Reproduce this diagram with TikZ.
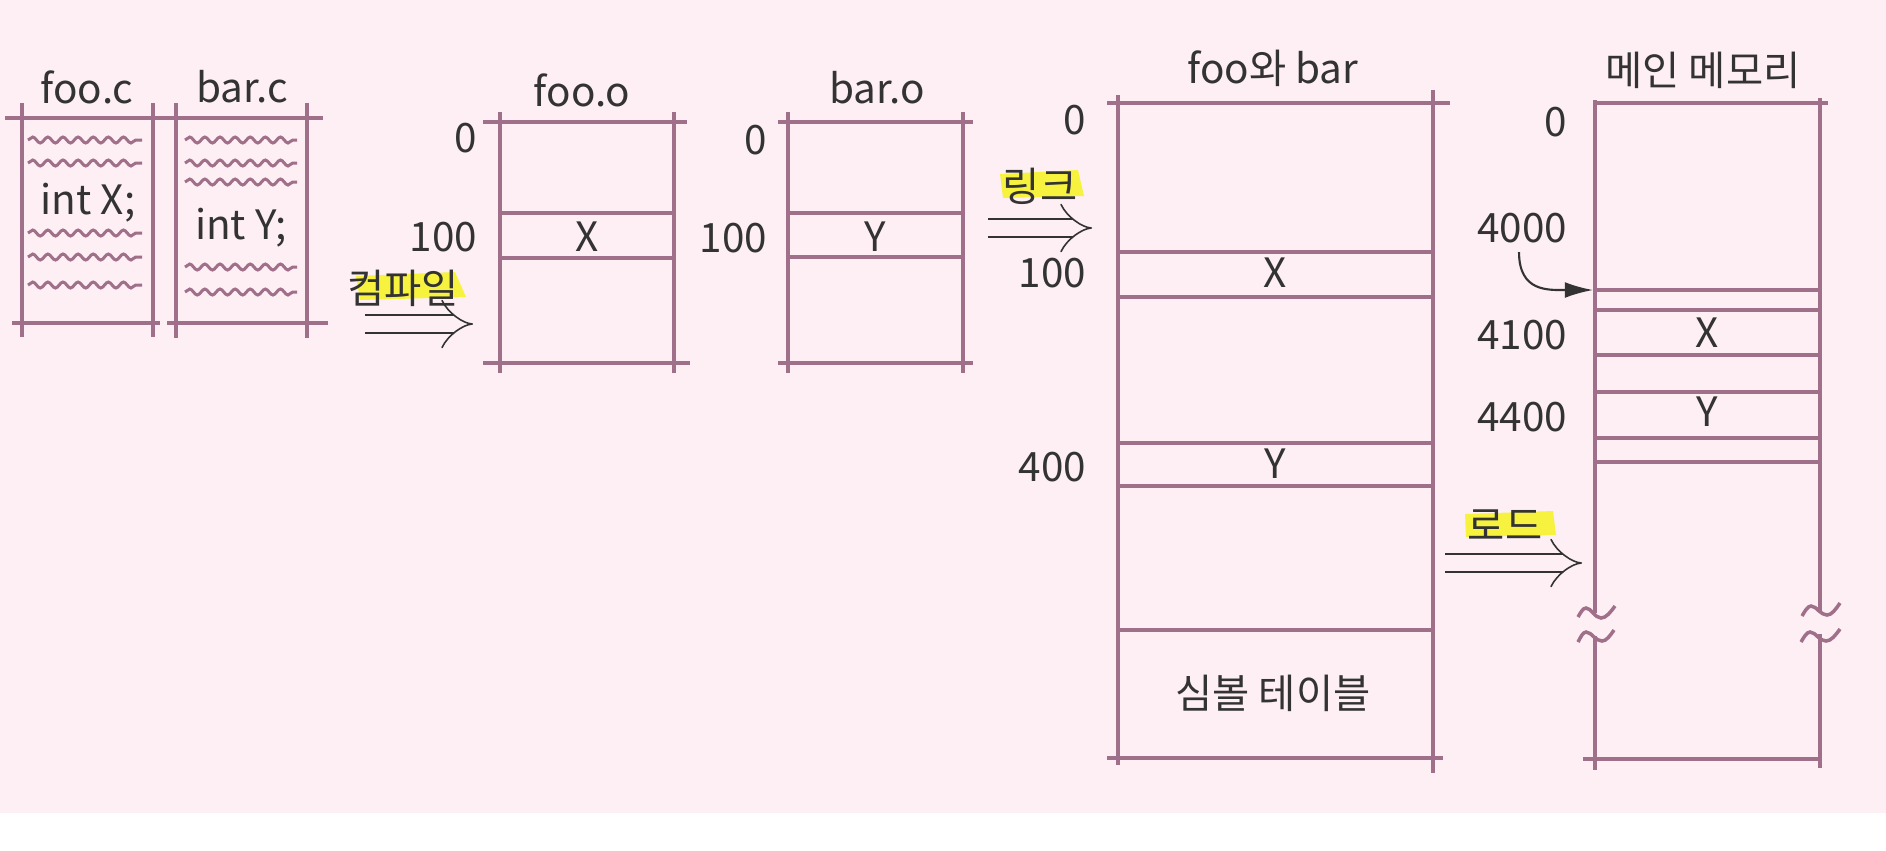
\documentclass[tikz,border=0pt]{standalone}
\usepackage{fontspec}
\setmainfont{Noto Sans CJK KR}
\usepackage{tikz}
\usetikzlibrary{calc,arrows.meta,decorations.pathmorphing}
\definecolor{paper}{HTML}{FDEFF4}
\definecolor{rule}{HTML}{A06F89}
\definecolor{ink}{HTML}{333333}
\definecolor{marker}{HTML}{F6F23E}
\tikzstyle{wall}=[draw=rule,line width=1pt]
\tikzstyle{wave}=[draw=rule,line width=0.85pt,decorate,decoration={snake,amplitude=0.85pt,segment length=4.3pt}]
\tikzstyle{lbl}=[text=ink,inner sep=0pt,font=\fontsize{11.5}{13}\selectfont]
\tikzstyle{flow}=[draw=ink,line width=0.45pt,double=paper,double distance=4.6pt,-{Implies}]
\tikzstyle{curv}=[draw=ink,line width=0.6pt,-{Latex[length=8pt,width=4.5pt]}]
\tikzstyle{hl}=[fill=marker]

\begin{document}
\begin{tikzpicture}[x=0.01cm,y=-0.01cm]
\useasboundingbox (0,0) rectangle (1886,850);
\fill[paper] (0,0) rectangle (1886,813);
\fill[white] (0,813) rectangle (1886,850);

% source files
\draw (5,118)--(168,118) [wall];
\draw (12,323)--(160,323) [wall];
\draw (22,103)--(22,337) [wall];
\draw (153,103)--(153,337) [wall];
\draw (168,118)--(323,118) [wall];
\draw (167,323)--(328,323) [wall];
\draw (176,103)--(176,338) [wall];
\draw (307,103)--(307,338) [wall];

\draw (28,140)--(142,140) [wave];
\draw (28,163)--(142,163) [wave];
\draw (28,233)--(142,233) [wave];
\draw (28,257)--(142,257) [wave];
\draw (28,285)--(142,285) [wave];
\draw (185,140)--(297,140) [wave];
\draw (185,163)--(297,163) [wave];
\draw (185,182)--(297,182) [wave];
\draw (185,267)--(297,267) [wave];
\draw (185,292)--(297,292) [wave];

\draw (87,87) node [lbl] (fooc) {foo.c};
\draw (242,87) node [lbl] (barc) {bar.c};
\draw (88,203) node [lbl] (intx) {int X;};
\draw (241,228) node [lbl] (inty) {int Y;};

% compile
\fill (356,276)--(455,272)--(466,297)--(360,300)--cycle [hl];
\draw (403,288) node [lbl] (comp) {컴파일};
\coordinate (cs) at (365,324);
\coordinate (ce) at (473,324);
\draw (cs)--(ce) [flow];

% foo.o
\draw (483,122)--(687,122) [wall];
\draw (500,213)--(674,213) [wall];
\draw (500,258)--(674,258) [wall];
\draw (483,363)--(690,363) [wall];
\draw (500,112)--(500,373) [wall];
\draw (674,112)--(674,373) [wall];
\draw (582,90) node [lbl] (fooo) {foo.o};
\draw (478,138) node [lbl,anchor=east] (fo0) {0};
\draw (478,237) node [lbl,anchor=east] (fo100) {100};
\draw (587,237) node [lbl] (fox) {X};

% bar.o
\draw (778,122)--(973,122) [wall];
\draw (788,213)--(963,213) [wall];
\draw (788,257)--(963,257) [wall];
\draw (778,363)--(973,363) [wall];
\draw (788,112)--(788,373) [wall];
\draw (963,112)--(963,373) [wall];
\draw (877,88) node [lbl] (baro) {bar.o};
\draw (768,140) node [lbl,anchor=east] (bo0) {0};
\draw (768,238) node [lbl,anchor=east] (bo100) {100};
\draw (875,237) node [lbl] (boy) {Y};

% link
\fill (1000,174)--(1078,170)--(1084,196)--(1003,198)--cycle [hl];
\draw (1040,186) node [lbl] (link) {링크};
\coordinate (ls) at (988,228);
\coordinate (le) at (1092,228);
\draw (ls)--(le) [flow];

% foo and bar
\draw (1107,103)--(1450,103) [wall];
\draw (1118,252)--(1433,252) [wall];
\draw (1118,297)--(1433,297) [wall];
\draw (1118,443)--(1433,443) [wall];
\draw (1118,486)--(1433,486) [wall];
\draw (1118,630)--(1433,630) [wall];
\draw (1107,758)--(1443,758) [wall];
\draw (1118,95)--(1118,765) [wall];
\draw (1433,90)--(1433,773) [wall];
\draw (1273,68) node [lbl] (fab) {foo와 bar};
\draw (1087,120) node [lbl,anchor=east] (fb0) {0};
\draw (1087,273) node [lbl,anchor=east] (fb100) {100};
\draw (1087,467) node [lbl,anchor=east] (fb400) {400};
\draw (1275,273) node [lbl] (fbx) {X};
\draw (1275,464) node [lbl] (fby) {Y};
\draw (1273,693) node [lbl] (sym) {심볼 테이블};

% load
\fill (1465,514)--(1553,511)--(1556,535)--(1466,537)--cycle [hl];
\draw (1505,525) node [lbl] (load) {로드};
\coordinate (ds) at (1445,563);
\coordinate (de) at (1582,563);
\draw (ds)--(de) [flow];

% main memory
\draw (1593,103)--(1828,103) [wall];
\draw (1595,290)--(1820,290) [wall];
\draw (1595,310)--(1820,310) [wall];
\draw (1595,355)--(1820,355) [wall];
\draw (1595,392)--(1820,392) [wall];
\draw (1595,438)--(1820,438) [wall];
\draw (1595,462)--(1820,462) [wall];
\draw (1583,759)--(1821,759) [wall];
\draw (1595,100)--(1595,613) [wall];
\draw (1595,636)--(1595,770) [wall];
\draw (1820,98)--(1820,611) [wall];
\draw (1820,634)--(1820,768) [wall];
\draw (1578,617) sin (1586,608) cos (1593,613) sin (1601,618) cos (1615,606) [wall];
\draw (1578,642) sin (1586,632) cos (1594,637) sin (1602,641) cos (1614,630) [wall];
\draw (1802,616) sin (1811,606) cos (1819,611) sin (1827,615) cos (1840,603) [wall];
\draw (1801,642) sin (1810,632) cos (1818,637) sin (1826,641) cos (1840,629) [wall];
\draw (1703,70) node [lbl] (mem) {메인 메모리};
\draw (1568,122) node [lbl,anchor=east] (mm0) {0};
\draw (1568,228) node [lbl,anchor=east] (mm4000) {4000};
\draw (1568,335) node [lbl,anchor=east] (mm4100) {4100};
\draw (1568,417) node [lbl,anchor=east] (mm4400) {4400};
\draw (1707,333) node [lbl] (mmx) {X};
\draw (1707,412) node [lbl] (mmy) {Y};
\coordinate (k0) at (1519,252);
\coordinate (k1) at (1593,290);
\draw (k0) .. controls (1519,292) and (1548,290) .. (k1) [curv];

\end{tikzpicture}
\end{document}
